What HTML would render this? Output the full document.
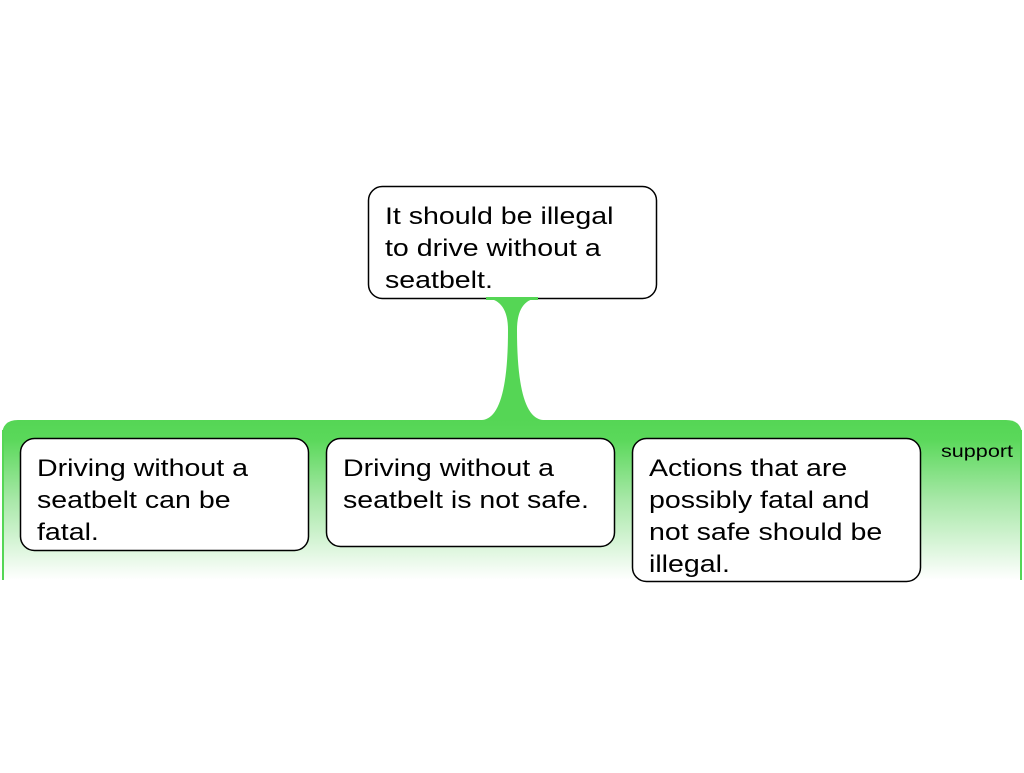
<!DOCTYPE html>
<html><head><meta charset="utf-8"><style>
body{margin:0;width:1024px;height:768px;background:#fff;overflow:hidden}
svg text{font-family:"Liberation Sans",sans-serif;font-size:24px;fill:#000}
</style></head><body>
<svg width="1024" height="768" xmlns="http://www.w3.org/2000/svg">
<defs>
<linearGradient id="g" x1="0" y1="0" x2="0" y2="1">
<stop offset="0" stop-color="#55d655"/>
<stop offset="0.12" stop-color="#5ad85a"/>
<stop offset="0.5" stop-color="#a8e8a8"/>
<stop offset="1" stop-color="#ffffff"/>
</linearGradient>
</defs>
<path d="M2,580 L2,436 Q2,420 18,420 L1006,420 Q1022,420 1022,436 L1022,580 Z" fill="url(#g)"/>
<rect x="2" y="430" width="2" height="150" fill="#55d655"/>
<rect x="1020" y="430" width="2" height="150" fill="#55d655"/>
<path d="M482,420 Q508,418 508,330 Q508,300 486,298 L538,298 Q517,300 517,330 Q517,418 543,420 Z" fill="#55d655"/>
<g fill="#fff" stroke="#000" stroke-width="1.5">
<rect x="368.5" y="186.5" width="288" height="112" rx="14"/>
<rect x="20.5" y="438.5" width="288" height="112" rx="14"/>
<rect x="326.5" y="438.5" width="288" height="108" rx="14"/>
<rect x="632.5" y="438.5" width="288" height="143" rx="14"/>
</g>
<rect x="486" y="297" width="52" height="3" fill="#55d655"/>
<g transform="translate(385,0) scale(1.19,1) translate(-385,0)">
<text x="385" y="224">It should be illegal</text>
<text x="385" y="256">to drive without a</text>
<text x="385" y="288">seatbelt.</text>
</g>
<g transform="translate(37,0) scale(1.19,1) translate(-37,0)">
<text x="37" y="476">Driving without a</text>
<text x="37" y="508">seatbelt can be</text>
<text x="37" y="540">fatal.</text>
</g>
<g transform="translate(343,0) scale(1.19,1) translate(-343,0)">
<text x="343" y="476">Driving without a</text>
<text x="343" y="508">seatbelt is not safe.</text>
</g>
<g transform="translate(649,0) scale(1.19,1) translate(-649,0)">
<text x="649" y="476">Actions that are</text>
<text x="649" y="508">possibly fatal and</text>
<text x="649" y="540">not safe should be</text>
<text x="649" y="572">illegal.</text>
</g>
<g transform="translate(941,0) scale(1.2,1) translate(-941,0)">
<text x="941" y="457" style="font-size:18px">support</text>
</g>
</svg>
</body></html>
